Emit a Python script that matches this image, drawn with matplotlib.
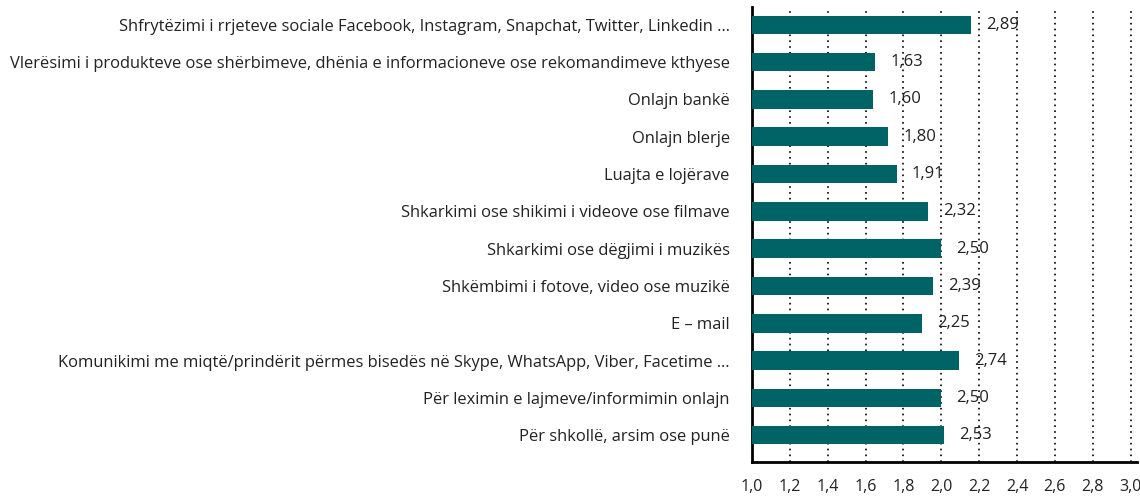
import numpy as np
import matplotlib.pyplot as plt

# Data (values shown on bars, top to bottom)
categories = [
    "Shfrytëzimi i rrjeteve sociale Facebook, Instagram, Snapchat, Twitter, Linkedin …",
    "Vlerësimi i produkteve ose shërbimeve, dhënia e informacioneve ose rekomandimeve kthyese",
    "Onlajn bankë",
    "Onlajn blerje",
    "Luajta e lojërave",
    "Shkarkimi ose shikimi i videove ose filmave",
    "Shkarkimi ose dëgjimi i muzikës",
    "Shkëmbimi i fotove, video ose muzikë",
    "E – mail",
    "Komunikimi me miqtë/prindërit përmes bisedës në Skype, WhatsApp, Viber, Facetime …",
    "Për leximin e lajmeve/informimin onlajn",
    "Për shkollë, arsim ose punë",
]
values = [2.89, 1.63, 1.60, 1.80, 1.91, 2.32, 2.50, 2.39, 2.25, 2.74, 2.50, 2.53]
tick_labels = ["1,0", "1,2", "1,4", "1,6", "1,8", "2,0", "2,2", "2,4", "2,6", "2,8", "3,0"]

plt.rcParams['font.family'] = ['Open Sans', 'DejaVu Sans']

fig = plt.figure(figsize=(11.4, 4.98), dpi=100)
ax = fig.add_axes([0.6596, 0.0723, 0.3374, 0.9137])

y = np.arange(len(categories))
ax.barh(y, values, height=0.5, color='#006466', zorder=3)

for yi, v in zip(y, values):
    ax.text(v + 0.2, yi, f"{v:.2f}".replace('.', ','), va='center', ha='left',
            fontsize=12, color='#222222', zorder=4)

# the printed ticks run 1,0..3,0 over the whole axis width
ticks = np.linspace(0, 5, len(tick_labels))
ax.set_xticks(ticks)
ax.set_xticklabels(tick_labels, fontsize=11.5, color='#222222')
ax.set_xlim(0, 5.08)
ax.set_yticks(y)
ax.set_yticklabels(categories, fontsize=11.9, color='#222222')
ax.set_ylim(len(categories) - 0.28, -0.48)

ax.tick_params(axis='x', length=0, pad=12)
ax.tick_params(axis='y', length=0, pad=16)
ax.grid(axis='x', color='black', linestyle=(0, (1, 2.5)), linewidth=1.2, zorder=1)
ax.set_axisbelow(True)

for s in ['top', 'right']:
    ax.spines[s].set_visible(False)
ax.spines['left'].set_linewidth(2)
ax.spines['bottom'].set_linewidth(2)

plt.savefig('out.png', dpi=100)
